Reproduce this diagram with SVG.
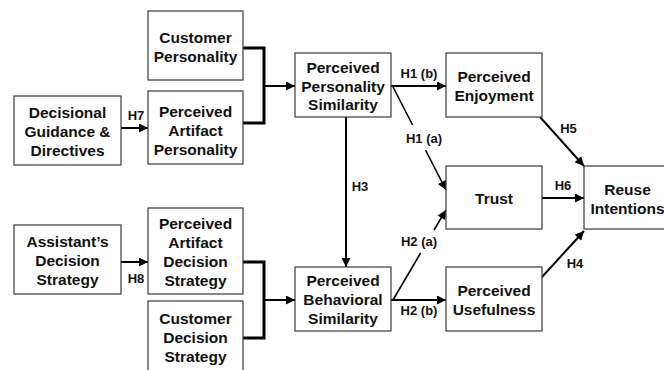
<svg xmlns="http://www.w3.org/2000/svg" width="664" height="370" viewBox="0 0 664 370">
<style>
.box{fill:#fff;stroke:#3a3a3a;stroke-width:1.2}
.t{font-family:"Liberation Sans",Arial,sans-serif;font-weight:bold;font-size:15.5px;text-anchor:middle;fill:#111}
.lbl{font-family:"Liberation Sans",Arial,sans-serif;font-weight:bold;font-size:13px;text-anchor:middle;fill:#111}
.c{fill:none;stroke:#000;stroke-width:2}
.br{fill:none;stroke:#000;stroke-width:3}
</style>
<defs>
<marker id="ah" viewBox="0 0 10 10" refX="10" refY="5" markerWidth="10" markerHeight="9" markerUnits="userSpaceOnUse" orient="auto">
<path d="M0,0 L10,5 L0,10 z" fill="#000"/>
</marker>
</defs>
<rect width="664" height="370" fill="#fff"/>
<g id="connectors">
<polyline class="br" points="243,48 264,48 264,123 243,123"/>
<line class="c" x1="263" y1="86" x2="295" y2="86" marker-end="url(#ah)"/>
<polyline class="br" points="243,262 264,262 264,338 243,338"/>
<line class="c" x1="263" y1="300" x2="295" y2="300" marker-end="url(#ah)"/>
<line class="c" x1="121" y1="128" x2="148" y2="128" marker-end="url(#ah)"/>
<line class="c" x1="121" y1="262" x2="148" y2="262" marker-end="url(#ah)"/>
<line class="c" x1="391" y1="86" x2="446" y2="86" marker-end="url(#ah)"/>
<line class="c" x1="393" y1="87" x2="412.6" y2="125" style="stroke-width:1.6"/>
<line class="c" x1="425.5" y1="150" x2="446" y2="190" style="stroke-width:1.6" marker-end="url(#ah)"/>
<line class="c" x1="346" y1="117" x2="346" y2="267" marker-end="url(#ah)"/>
<line class="c" x1="540" y1="117" x2="584" y2="166" marker-end="url(#ah)"/>
<line class="c" x1="542" y1="198" x2="584" y2="198" marker-end="url(#ah)"/>
<line class="c" x1="391" y1="300" x2="446" y2="300" marker-end="url(#ah)"/>
<line class="c" x1="393" y1="300" x2="420.6" y2="253" style="stroke-width:1.6"/>
<line class="c" x1="434" y1="230" x2="446" y2="210" style="stroke-width:1.6" marker-end="url(#ah)"/>
<line class="c" x1="542" y1="277" x2="584" y2="231" marker-end="url(#ah)"/>
<text class="lbl" x="136" y="120">H7</text>
<text class="lbl" x="136" y="283">H8</text>
<text class="lbl" x="419" y="78">H1 (b)</text>
<text class="lbl" x="424" y="143">H1 (a)</text>
<text class="lbl" x="568.5" y="133">H5</text>
<text class="lbl" x="360" y="191">H3</text>
<text class="lbl" x="563" y="190">H6</text>
<text class="lbl" x="419" y="246">H2 (a)</text>
<text class="lbl" x="419" y="315">H2 (b)</text>
<text class="lbl" x="575" y="268">H4</text>
</g>
<g id="customer-personality">
<rect class="box" x="148" y="11" width="95" height="69"/>
<text class="t" x="195.5" y="43">Customer</text>
<text class="t" x="195.5" y="62">Personality</text>
</g>
<g id="perceived-artifact-personality">
<rect class="box" x="148" y="91" width="95" height="73"/>
<text class="t" x="195.5" y="117">Perceived</text>
<text class="t" x="195.5" y="136">Artifact</text>
<text class="t" x="195.5" y="155">Personality</text>
</g>
<g id="decisional-guidance">
<rect class="box" x="14" y="96" width="107" height="69"/>
<text class="t" x="67.5" y="118">Decisional</text>
<text class="t" x="67.5" y="137">Guidance &amp;</text>
<text class="t" x="67.5" y="156">Directives</text>
</g>
<g id="perceived-personality-similarity">
<rect class="box" x="295" y="53" width="96" height="64"/>
<text class="t" x="343" y="73">Perceived</text>
<text class="t" x="343" y="91.5">Personality</text>
<text class="t" x="343" y="110">Similarity</text>
</g>
<g id="perceived-enjoyment">
<rect class="box" x="446" y="53" width="96" height="64"/>
<text class="t" x="494" y="82">Perceived</text>
<text class="t" x="494" y="101">Enjoyment</text>
</g>
<g id="trust">
<rect class="box" x="446" y="166" width="96" height="63"/>
<text class="t" x="494" y="204">Trust</text>
</g>
<g id="reuse-intentions">
<rect class="box" x="584" y="166" width="90" height="63"/>
<text class="t" x="627.5" y="195">Reuse</text>
<text class="t" x="627.5" y="214">Intentions</text>
</g>
<g id="perceived-behavioral-similarity">
<rect class="box" x="295" y="267" width="96" height="64"/>
<text class="t" x="343" y="286">Perceived</text>
<text class="t" x="343" y="305">Behavioral</text>
<text class="t" x="343" y="324">Similarity</text>
</g>
<g id="perceived-usefulness">
<rect class="box" x="446" y="267" width="96" height="64"/>
<text class="t" x="494" y="296">Perceived</text>
<text class="t" x="494" y="315">Usefulness</text>
</g>
<g id="assistants-decision-strategy">
<rect class="box" x="14" y="225" width="107" height="69"/>
<text class="t" x="67.5" y="247">Assistant’s</text>
<text class="t" x="67.5" y="266">Decision</text>
<text class="t" x="67.5" y="285">Strategy</text>
</g>
<g id="perceived-artifact-decision-strategy">
<rect class="box" x="148" y="208" width="95" height="86"/>
<text class="t" x="195.5" y="229">Perceived</text>
<text class="t" x="195.5" y="248">Artifact</text>
<text class="t" x="195.5" y="267">Decision</text>
<text class="t" x="195.5" y="286">Strategy</text>
</g>
<g id="customer-decision-strategy">
<rect class="box" x="148" y="301" width="95" height="76"/>
<text class="t" x="195.5" y="324">Customer</text>
<text class="t" x="195.5" y="343">Decision</text>
<text class="t" x="195.5" y="362">Strategy</text>
</g>
</svg>
